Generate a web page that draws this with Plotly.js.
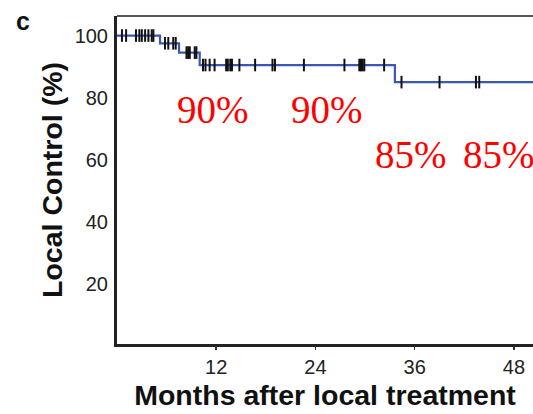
<!DOCTYPE html>
<html>
<head>
<meta charset="utf-8">
<script src="https://cdn.plot.ly/plotly-3.0.1.min.js"></script>
<style>html,body{margin:0;padding:0;overflow:hidden;background:#fff}</style>
</head>
<body>
<div id="chart" style="width:533px;height:414px"></div>
<script>
// Kaplan-Meier step curve (months, % local control)
var stepTimes  = [0, 5.2, 7.5, 10.0, 33.6, 50.3];
var stepValues = [100, 97.5, 94.5, 90.5, 85, 85];
// Censored observations
var censorTimes  = [0.6,1.1,2.3,2.7,3.0,3.4,3.8,4.2,4.4,
                    5.8,6.2,6.8,7.1,
                    8.4,8.6,8.8,9.4,9.6,
                    10.4,10.7,11.2,11.8,13.2,13.4,13.7,13.9,14.8,16.7,18.8,19.1,22.6,27.5,29.3,29.5,29.7,29.9,32.3,
                    34.4,39.0,43.4,43.8];
var censorValues = [100,100,100,100,100,100,100,100,100,
                    97.5,97.5,97.5,97.5,
                    94.5,94.5,94.5,94.5,94.5,
                    90.5,90.5,90.5,90.5,90.5,90.5,90.5,90.5,90.5,90.5,90.5,90.5,90.5,90.5,90.5,90.5,90.5,90.5,90.5,
                    85,85,85,85];
var xTicks = [12, 24, 36, 48];
var yTicks = [20, 40, 60, 80, 100];
var rateLabels = ["90%", "90%", "85%", "85%"];

var traces = [
  {x: stepTimes, y: stepValues, mode: 'lines', line: {shape: 'hv', color: '#3b57b3', width: 2.2}, hoverinfo: 'skip'},
  {x: censorTimes, y: censorValues, mode: 'markers',
   marker: {symbol: 'line-ns-open', size: 9, line: {width: 2, color: '#111'}, color: '#111'}, hoverinfo: 'skip'}
];

var labelPos = [[11.6, 76.1], [25.45, 76.1], [35.6, 61.7], [46.2, 61.7]];
var anns = rateLabels.map(function(t, i){
  return {text: t, x: labelPos[i][0], y: labelPos[i][1], xref: 'x', yref: 'y', showarrow: false,
          xanchor: 'center', yanchor: 'middle',
          font: {family: 'Liberation Serif, Times New Roman, serif', size: 39, color: '#ff0000'}};
});
anns.push({text: '<b>c</b>', xref: 'paper', yref: 'paper', x: (23-117)/416, y: (344-21)/328,
           xanchor: 'center', yanchor: 'middle', showarrow: false,
           font: {family: 'Liberation Sans, Arial, sans-serif', size: 25, color: '#111'}});

var layout = {
  width: 533, height: 414,
  margin: {l: 117, r: 0, t: 16, b: 70},
  paper_bgcolor: '#fff', plot_bgcolor: '#fff',
  showlegend: false,
  font: {family: 'Liberation Sans, Arial, sans-serif', color: '#222'},
  xaxis: {
    range: [0, 50.3], tickvals: xTicks, ticktext: xTicks.map(String),
    ticks: 'outside', ticklen: 3, tickwidth: 1.5, tickcolor: '#333',
    showgrid: false, zeroline: false, showline: true, linecolor: '#222', linewidth: 3,
    tickfont: {size: 20, color: '#222'}, ticklabelstandoff: 0,
    title: {text: '<b>Months after local treatment</b>', font: {size: 28.5, color: '#111'}, standoff: 9}
  },
  yaxis: {
    range: [0.6, 106.3], tickvals: yTicks, ticktext: yTicks.map(String),
    ticks: '', showgrid: false, zeroline: false, showline: true, linecolor: '#222', linewidth: 3,
    tickfont: {size: 20, color: '#222'}, ticklabelstandoff: 2,
    title: {text: '<b>Local Control (%)</b>', font: {size: 28.5, color: '#111'}, standoff: 4}
  },
  shapes: [{type: 'line', xref: 'paper', yref: 'paper', x0: 0, x1: 1, y0: 1, y1: 1,
            line: {color: '#555', width: 2}}],
  annotations: anns
};

Plotly.newPlot('chart', traces, layout, {displayModeBar: false, staticPlot: true});
</script>
</body>
</html>
